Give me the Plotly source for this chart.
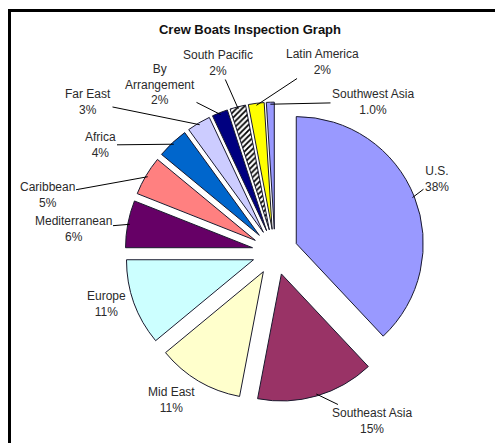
import math
import plotly.graph_objects as go

# ---- data ----
regions = ["U.S.", "Southeast Asia", "Mid East", "Europe", "Mediterranean",
           "Caribbean", "Africa", "Far East", "By Arrangement", "South Pacific",
           "Latin America", "Southwest Asia"]
shares = [38, 15, 11, 11, 6, 5, 4, 3, 2, 2, 2, 1]
share_labels = ["38%", "15%", "11%", "11%", "6%", "5%", "4%", "3%", "2%", "2%", "2%", "1.0%"]
label_names = ["U.S.", "Southeast Asia", "Mid East", "Europe", "Mediterranean",
               "Caribbean", "Africa", "Far East", "By<br>Arrangement", "South Pacific",
               "Latin America", "Southwest Asia"]

# ---- style ----
W, H = 495, 443
colors = ["#9999FF", "#993366", "#FFFFCC", "#CCFFFF", "#660066", "#FF8080",
          "#0066CC", "#CCCCFF", "#000080", "#FFFFFF", "#FFFF00", "#9999FF"]
patterns = ["", "", "", "", "", "", "", "", "", "/", "", ""]
PULL = 0.18
CX, CY, R = 275, 252, 127  # pie centre / radius in px
half = R * (1 + PULL)
dom_x = [(CX - half) / W, (CX + half) / W]
dom_y = [1 - (CY + half) / H, 1 - (CY - half) / H]

# label text centres (px) and whether they have a leader line
label_pos = [(437, 179), (372, 421), (171, 400), (106, 304), (73, 229),
             (47, 195), (100, 145), (88, 102), (160, 84), (218, 63),
             (322, 62), (373, 102)]
leader = [True, True, False, False, True, True, True, True, True, True, True, True]

FONT = dict(family="Liberation Sans, Arial", size=12, color="#2a2a2a")

fig = go.Figure(go.Pie(
    labels=regions, values=shares, sort=False, direction="clockwise", rotation=0,
    pull=[PULL] * len(shares), textinfo="none", hoverinfo="label+percent",
    marker=dict(colors=colors, line=dict(color="#1a1a2e", width=1),
                pattern=dict(shape=patterns, fgcolor="#000000", bgcolor="#FFFFFF",
                             size=4, solidity=0.45)),
    domain=dict(x=dom_x, y=dom_y), showlegend=False,
))

# annotations anchored at slice edges computed from the data
total = sum(shares)
cum = 0
annotations = []
for i, v in enumerate(shares):
    mid = (cum + v / 2) / total * 2 * math.pi
    cum += v
    rr = R * (1 + PULL) - 2
    tx = CX + rr * math.sin(mid)
    ty = CY - rr * math.cos(mid)
    lx, ly = label_pos[i]
    text = f"{label_names[i]}<br>{share_labels[i]}"
    if leader[i]:
        annotations.append(dict(
            x=tx / W, y=1 - ty / H, xref="paper", yref="paper",
            ax=lx - tx, ay=ly - ty, text=text, showarrow=True,
            arrowhead=0, arrowwidth=1, arrowcolor="#000000", standoff=0,
            font=FONT, align="center"))
    else:
        annotations.append(dict(
            x=lx / W, y=1 - ly / H, xref="paper", yref="paper",
            text=text, showarrow=False, xanchor="center", yanchor="middle",
            font=FONT, align="center"))

fig.update_layout(
    width=W, height=H, margin=dict(l=0, r=0, t=0, b=0),
    paper_bgcolor="white", plot_bgcolor="white",
    title=dict(text="<b>Crew Boats Inspection Graph</b>", x=250 / W, xanchor="center",
               y=1 - 29 / H, yanchor="middle",
               font=dict(family="Liberation Sans, Arial", size=13, color="#111111")),
    annotations=annotations,
    shapes=[dict(type="rect", xref="paper", yref="paper",
                 x0=9.5 / W, x1=1.05, y0=-0.05, y1=1 - 10.5 / H,
                 line=dict(color="#000000", width=3))],
)

fig.write_html("out.html", config={"displayModeBar": False},
               post_script="document.body.style.margin='0px';document.body.style.overflow='hidden';")
